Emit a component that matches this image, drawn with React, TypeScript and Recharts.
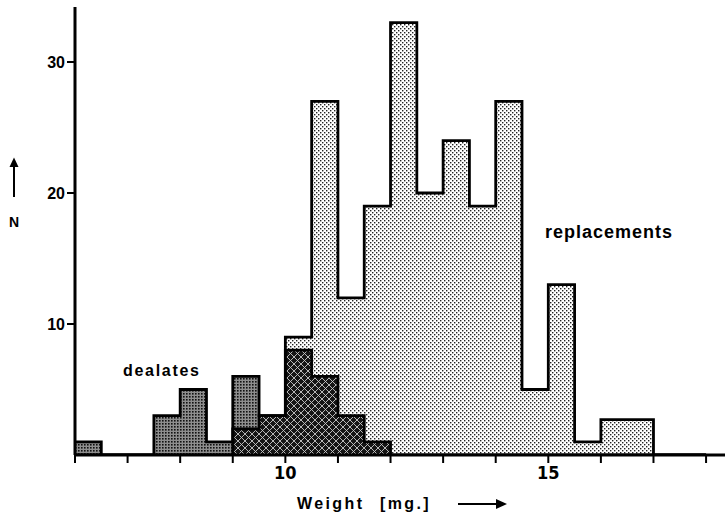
import { ComposedChart, Area, Line, XAxis, YAxis } from 'recharts';

// left edge of each 0.5 mg weight class
const binStart = [6, 6.5, 7, 7.5, 8, 8.5, 9, 9.5, 10, 10.5, 11, 11.5, 12, 12.5, 13, 13.5, 14, 14.5, 15, 15.5, 16, 16.5, 17, 17.5, 18];
const dealates = [1, 0, 0, 3, 5, 1, 6, 3, 8, 6, 3, 1, 0, 0, 0, 0, 0, 0, 0, 0, 0, 0, 0, 0, 0];
const replacements = [0, 0, 0, 0, 0, 0, 2, 3, 9, 27, 12, 19, 33, 20, 24, 19, 27, 5, 13, 1, 2.7, 2.7, 0, 0, 0];

const xTicks = [6, 7, 8, 9, 10, 11, 12, 13, 14, 15, 16, 17, 18];
const xLabels = [10, 15];
const yTicks = [10, 20, 30];

const rows = binStart.map((x, i) => ({
  x,
  rep: replacements[i],
  deal: dealates[i],
  both: Math.min(replacements[i], dealates[i]),
}));

const SANS = "'Liberation Sans', Arial, sans-serif";
const NARROW = "'Liberation Sans Narrow', 'DejaVu Sans Condensed', sans-serif";

export default function App() {
  return (
    <div style={{ position: 'absolute', left: 0, top: 0, width: 725, height: 519, background: '#fff' }}>
      <ComposedChart
        width={725}
        height={519}
        data={rows}
        margin={{ top: 7, right: 0, left: 0, bottom: 0 }}
      >
        <defs>
          <pattern id="light" width="4" height="4" patternUnits="userSpaceOnUse">
            <rect width="4" height="4" fill="#fff" />
            <rect x="0" y="0" width="1.4" height="1.4" fill="#222" />
            <rect x="2" y="2" width="1.4" height="1.4" fill="#222" />
          </pattern>
          <pattern id="medium" width="3" height="3" patternUnits="userSpaceOnUse">
            <rect width="3" height="3" fill="#8e8e8e" />
            <rect x="0" y="0" width="1.6" height="1.6" fill="#111" />
          </pattern>
          <pattern id="cross" width="7" height="7" patternUnits="userSpaceOnUse">
            <rect width="7" height="7" fill="#151515" />
            <path d="M0,0 L7,7 M7,0 L0,7" stroke="#c8c8c8" strokeWidth="0.9" />
          </pattern>
        </defs>
        <XAxis
          dataKey="x"
          type="number"
          domain={[6, 18.36]}
          allowDataOverflow
          ticks={xTicks}
          interval={0}
          height={64}
          tickSize={8}
          tickMargin={3}
          tickFormatter={(v: number) => (xLabels.includes(v) ? String(v) : '')}
          axisLine={{ stroke: '#000', strokeWidth: 3 }}
          tickLine={{ stroke: '#000', strokeWidth: 2 }}
          tick={{ fontFamily: NARROW, fontWeight: 700, fontSize: 18, fill: '#000' }}
        />
        <YAxis
          type="number"
          domain={[0, 34.2]}
          allowDataOverflow
          ticks={yTicks}
          interval={0}
          width={75}
          tickSize={8}
          tickMargin={2}
          axisLine={{ stroke: '#000', strokeWidth: 3 }}
          tickLine={{ stroke: '#000', strokeWidth: 2 }}
          tick={{ fontFamily: SANS, fontWeight: 700, fontSize: 16, fill: '#000' }}
        />
        <Area type="stepAfter" dataKey="rep" stroke="none" fill="url(#light)" fillOpacity={1} isAnimationActive={false} />
        <Area type="stepAfter" dataKey="deal" stroke="none" fill="url(#medium)" fillOpacity={1} isAnimationActive={false} />
        <Area type="stepAfter" dataKey="both" stroke="none" fill="url(#cross)" fillOpacity={1} isAnimationActive={false} />
        <Line type="stepAfter" dataKey="rep" stroke="#000" strokeWidth={2.8} dot={false} activeDot={false} isAnimationActive={false} />
        <Line type="stepAfter" dataKey="deal" stroke="#000" strokeWidth={2.8} dot={false} activeDot={false} isAnimationActive={false} />
      </ComposedChart>

      <svg width={725} height={519} style={{ position: 'absolute', left: 0, top: 0, pointerEvents: 'none' }}>
        <text x={123} y={375.5} fontFamily={SANS} fontWeight={700} fontSize={16} letterSpacing={1.7} fill="#000">
          dealates
        </text>
        <text x={545} y={237.5} fontFamily={SANS} fontWeight={700} fontSize={18} letterSpacing={1} fill="#000">
          replacements
        </text>
        <text x={297} y={508.5} fontFamily={SANS} fontWeight={700} fontSize={16} letterSpacing={2.4} fill="#000">
          Weight
        </text>
        <text x={380} y={508.5} fontFamily={SANS} fontWeight={700} fontSize={16} letterSpacing={2.4} fill="#000">
          [mg.]
        </text>
        <line x1={458} y1={504} x2={503} y2={504} stroke="#000" strokeWidth={2} />
        <path d="M496,499 L507,504 L496,509 Z" fill="#000" />
        <text x={14} y={227} textAnchor="middle" fontFamily={SANS} fontWeight={700} fontSize={14} fill="#000">
          N
        </text>
        <line x1={14} y1={197} x2={14} y2={163} stroke="#000" strokeWidth={2} />
        <path d="M9.5,167 L14,157.5 L18.5,167 Z" fill="#000" />
      </svg>
    </div>
  );
}
